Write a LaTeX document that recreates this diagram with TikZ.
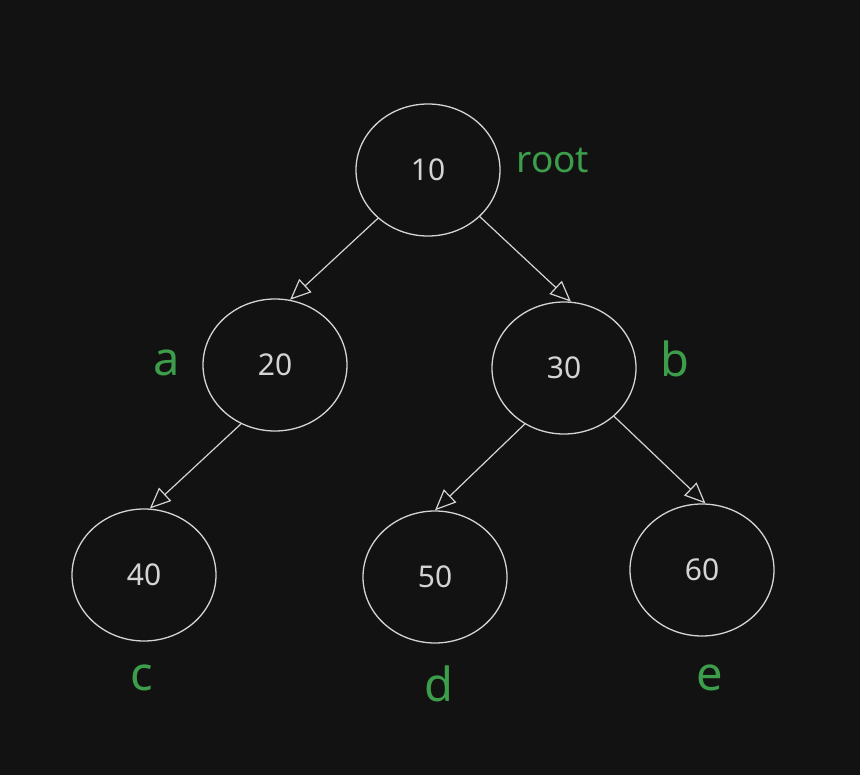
\documentclass[tikz,border=0pt]{standalone}
\usepackage{fontspec}
\setmainfont{Noto Sans}
\usetikzlibrary{shapes.geometric,arrows.meta}
\definecolor{bg}{HTML}{121212}
\definecolor{ln}{HTML}{D4D4D4}
\definecolor{gr}{HTML}{3C9D4A}
\begin{document}
\begin{tikzpicture}[x=1pt,y=-1pt,
  tnode/.style={ellipse,draw=ln,line width=1.3pt,minimum width=144pt,minimum height=132pt,inner sep=0pt,text=ln,font=\fontsize{30}{32}\selectfont},
  edge/.style={draw=ln,line width=1.2pt,-{Triangle[open,length=21pt,width=18pt]}},
  lab/.style={text=gr,inner sep=0pt,anchor=base,font=\fontsize{47}{50}\selectfont},
  rootlab/.style={text=gr,inner sep=0pt,anchor=base,font=\fontsize{37}{40}\selectfont}]
\fill[bg] (0,0) rectangle (860,775);
\useasboundingbox (0,0) rectangle (860,775);
\node[tnode] (n10) at (428,170) {10};
\node[tnode] (n20) at (275,365) {20};
\node[tnode] (n30) at (564,368) {30};
\node[tnode] (n40) at (144,575) {40};
\node[tnode] (n50) at (435,577) {50};
\node[tnode] (n60) at (702,570) {60};
\node[rootlab] (lroot) at (553,173) {root};
\node[lab] (la) at (167,376) {a};
\node[lab] (lb) at (675,377) {b};
\node[lab] (lc) at (142,690) {c};
\node[lab] (ld) at (439,701) {d};
\node[lab] (le) at (710,690) {e};
\draw[edge] (n10.224) -- (n20.77);
\draw[edge] (n10.318) -- (n30.84);
\draw[edge] (n20.240) -- (n40.85);
\draw[edge] (n30.235) -- (n50.90);
\draw[edge] (n30.316) -- (n60.87);
\end{tikzpicture}
\end{document}
